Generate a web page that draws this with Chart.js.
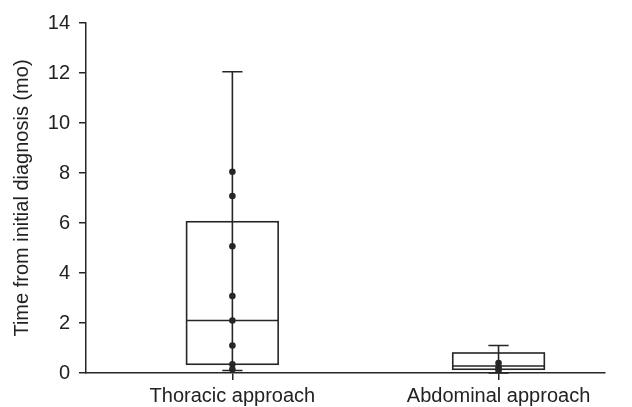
<!DOCTYPE html>
<html>
<head>
<meta charset="utf-8">
<script src="https://cdn.jsdelivr.net/npm/chart.js@4/dist/chart.umd.min.js"></script>
<style>
  html, body { margin: 0; padding: 0; background: #fff; }
  #wrap { width: 632px; height: 407px; }
</style>
</head>
<body>
<div id="wrap"><canvas id="timechart"></canvas></div>
<script>
// categories and box summary values (months)
var categories = ['Thoracic approach', 'Abdominal approach'];
var whiskerLow = [0.1, 0.0];
var q1 = [0.35, 0.15];
var median = [2.1, 0.28];
var q3 = [6.05, 0.8];
var whiskerHigh = [12.05, 1.1];

// individual observations
var thoracicPoints = [8.05, 7.08, 5.07, 3.08, 2.1, 1.1, 0.35, 0.15];
var abdominalPoints = [0.4, 0.23, 0.1];

var yTicks = [0, 2, 4, 6, 8, 10, 12, 14];

var ink = '#262626';

// draws the boxes and whiskers from the arrays above via the chart scales
var boxPlugin = {
    id: 'boxes',
    beforeDatasetsDraw: function (chart) {
        var ctx = chart.ctx;
        var xs = chart.scales.x, ys = chart.scales.y;
        ctx.save();
        ctx.strokeStyle = ink;
        ctx.lineWidth = 1.6;
        for (var i = 0; i < categories.length; i++) {
            var c = i + 1;
            var xc = xs.getPixelForValue(c);
            var xl = xs.getPixelForValue(c - 0.172);
            var xr = xs.getPixelForValue(c + 0.172);
            var cl = xs.getPixelForValue(c - 0.038);
            var cr = xs.getPixelForValue(c + 0.038);
            var yLo = ys.getPixelForValue(whiskerLow[i]);
            var yHi = ys.getPixelForValue(whiskerHigh[i]);
            var yQ1 = ys.getPixelForValue(q1[i]);
            var yQ3 = ys.getPixelForValue(q3[i]);
            var yMed = ys.getPixelForValue(median[i]);
            ctx.beginPath();
            // whisker line
            ctx.moveTo(xc, yLo); ctx.lineTo(xc, yHi);
            // caps
            ctx.moveTo(cl, yHi); ctx.lineTo(cr, yHi);
            ctx.moveTo(cl, yLo); ctx.lineTo(cr, yLo);
            // median
            ctx.moveTo(xl, yMed); ctx.lineTo(xr, yMed);
            ctx.stroke();
            ctx.strokeRect(xl, yQ3, xr - xl, yQ1 - yQ3);
        }
        ctx.restore();
    }
};

var ctx = document.getElementById('timechart').getContext('2d');

var timechart = new Chart(ctx, {
    type: 'scatter',
    data: {
        datasets: [{
            data: thoracicPoints.map(function (v) { return { x: 1, y: v }; }),
            pointRadius: 3.3,
            pointBackgroundColor: ink,
            pointBorderColor: ink,
            pointBorderWidth: 0
        }, {
            data: abdominalPoints.map(function (v) { return { x: 2, y: v }; }),
            pointRadius: 3.3,
            pointBackgroundColor: ink,
            pointBorderColor: ink,
            pointBorderWidth: 0
        }]
    },
    plugins: [boxPlugin],
    options: {
        responsive: true,
        maintainAspectRatio: false,
        animation: false,
        layout: {
            padding: { top: 23, right: 27, left: 0, bottom: 0 }
        },
        plugins: {
            legend: { display: false },
            tooltip: { enabled: false }
        },
        scales: {
            x: {
                type: 'linear',
                min: 0.45,
                max: 2.4,
                afterBuildTicks: function (axis) {
                    axis.ticks = categories.map(function (c, i) { return { value: i + 1 }; });
                },
                afterFit: function (axis) { axis.height = 34; },
                ticks: {
                    color: '#222',
                    font: { family: 'Liberation Sans, Arial, sans-serif', size: 20 },
                    padding: 4,
                    maxRotation: 0,
                    callback: function (v) { return categories[v - 1]; }
                },
                grid: {
                    drawOnChartArea: false,
                    drawTicks: true,
                    tickLength: 7,
                    color: ink,
                    lineWidth: 1.5
                },
                border: { display: true, color: ink, width: 1.5 }
            },
            y: {
                min: 0,
                max: 14,
                afterBuildTicks: function (axis) {
                    axis.ticks = yTicks.map(function (v) { return { value: v }; });
                },
                afterFit: function (axis) { axis.width = 86; },
                ticks: {
                    color: '#222',
                    font: { family: 'Liberation Sans, Arial, sans-serif', size: 20 },
                    padding: 9
                },
                grid: {
                    drawOnChartArea: false,
                    drawTicks: true,
                    tickLength: 7,
                    color: ink,
                    lineWidth: 1.5
                },
                border: { display: true, color: ink, width: 1.5 },
                title: {
                    display: true,
                    text: 'Time from initial diagnosis (mo)',
                    color: '#222',
                    font: { family: 'Liberation Sans, Arial, sans-serif', size: 20 },
                    padding: { top: 10, bottom: 0 }
                }
            }
        }
    }
});
</script>
</body>
</html>
